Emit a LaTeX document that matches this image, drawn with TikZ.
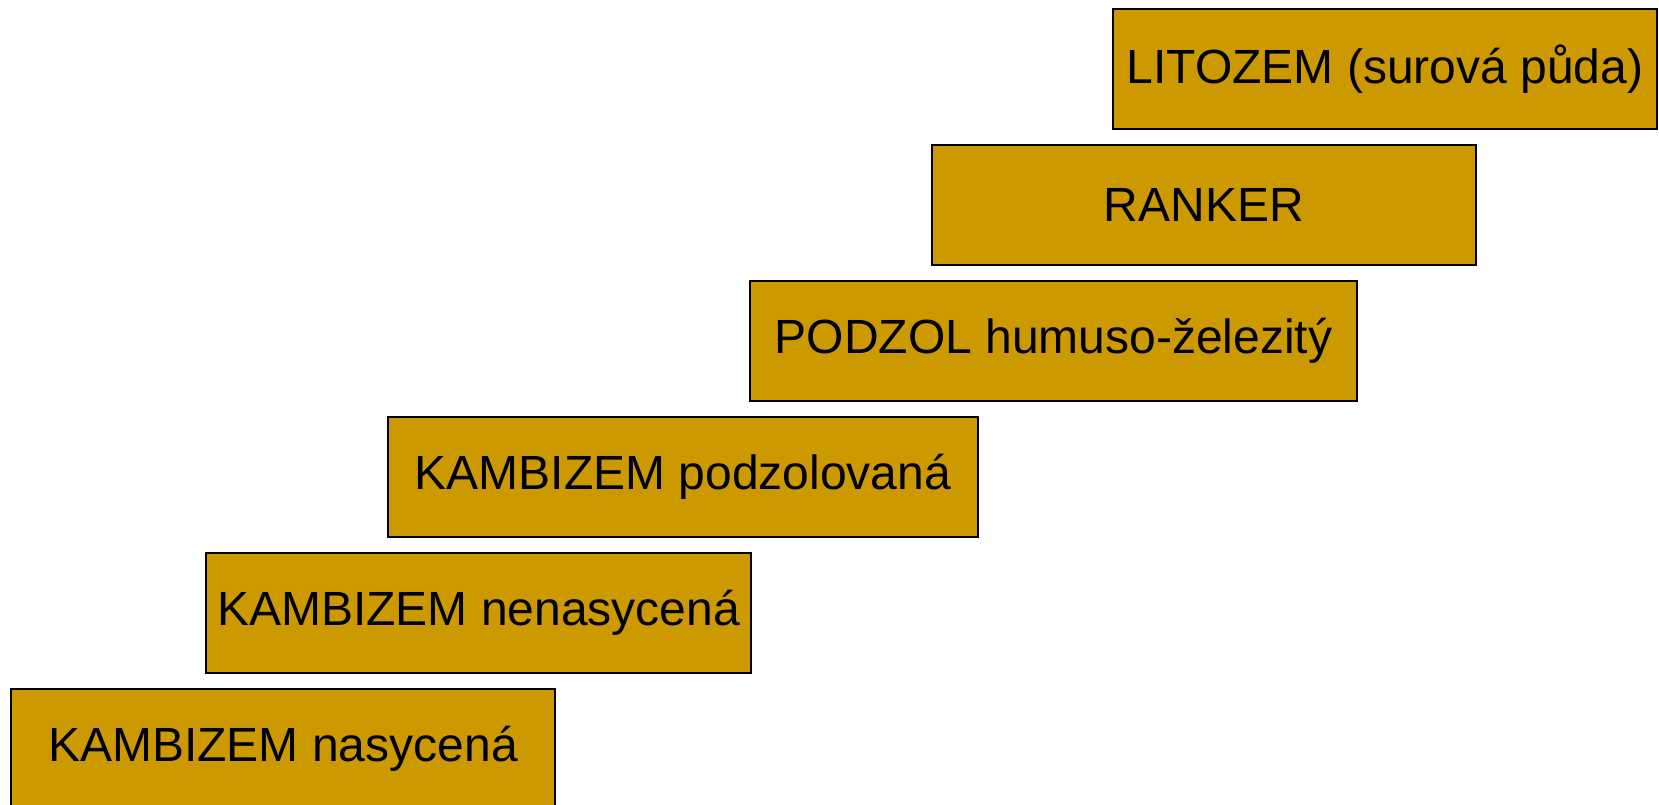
\documentclass[tikz,border=0pt]{standalone}
\usepackage{fontspec}
\setmainfont{Liberation Sans}
\definecolor{soil}{HTML}{CC9900}
\begin{document}
\begin{tikzpicture}[x=1pt,y=-1pt,
  soilbox/.style={draw=black, line width=2pt, fill=soil, rectangle, inner sep=0pt,
    anchor=north west, minimum height=120pt, align=center,
    font=\fontsize{48}{57}\selectfont}]
\useasboundingbox[fill=white] (0,0) rectangle (1659,805);
\node[soilbox, minimum width=544pt] (lit) at (1112,8) {LITOZEM (surová půda)};
\node[soilbox, minimum width=544pt] (ran) at (931,144) {RANKER};
\node[soilbox, minimum width=607pt] (pod) at (749,280) {PODZOL humuso-železitý};
\node[soilbox, minimum width=590pt] (kpo) at (387,416) {KAMBIZEM podzolovaná};
\node[soilbox, minimum width=545pt] (kne) at (205,552) {KAMBIZEM nenasycená};
\node[soilbox, minimum width=544pt] (kna) at (10,688) {KAMBIZEM nasycená};
\end{tikzpicture}
\end{document}
